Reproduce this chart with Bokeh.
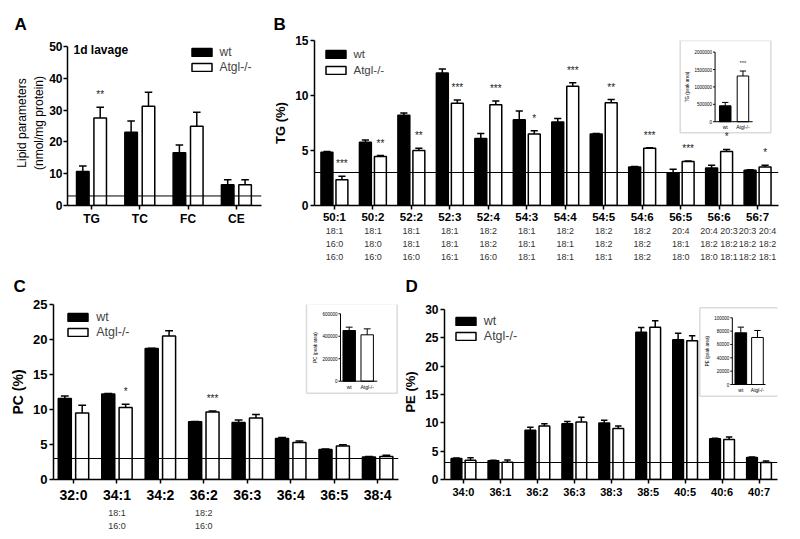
import math
from bokeh.plotting import figure
from bokeh.models import (Range1d, FixedTicker, LinearAxis, Span, Label, Legend,
                          LegendItem, BoxAnnotation)
from bokeh.core.properties import value
from bokeh.layouts import column, row
from bokeh.embed import file_html
from bokeh.resources import INLINE

FONT = "Liberation Sans"

# ------------------------------------------------------------------ data
A_cats = ["TG", "TC", "FC", "CE"]
A_wt = [10.7, 23.0, 16.6, 6.5]
A_wt_err = [1.75, 3.6, 2.4, 1.6]
A_ko = [27.5, 31.2, 24.9, 6.5]
A_ko_err = [3.4, 4.4, 4.4, 1.6]
A_sig = ["**", "", "", ""]

B_cats = ["50:1", "50:2", "52:2", "52:3", "52:4", "54:3", "54:4", "54:5",
          "54:6", "56:5", "56:6", "56:7"]
B_sub = [["18:1", "16:0", "16:0"], ["18:1", "18:0", "16:0"], ["18:1", "18:1", "16:0"],
         ["18:1", "18:1", "16:1"], ["18:2", "18:2", "16:0"], ["18:1", "18:1", "18:1"],
         ["18:2", "18:1", "18:1"], ["18:2", "18:2", "18:1"], ["18:2", "18:2", "18:2"],
         ["20:4", "18:1", "18:0"], ["20:4 20:3", "18:2 18:2", "18:0 18:1"],
         ["20:3 20:4", "18:2 18:2", "18:2 18:1"]]
B_wt = [4.85, 5.75, 8.2, 12.05, 6.1, 7.8, 7.6, 6.5, 3.5, 2.95, 3.4, 3.2]
B_wt_err = [0.05, 0.2, 0.2, 0.35, 0.45, 0.8, 0.3, 0.05, 0.05, 0.35, 0.25, 0.05]
B_ko = [2.35, 4.45, 5.0, 9.3, 9.15, 6.5, 10.85, 9.33, 5.2, 4.0, 4.9, 3.5]
B_ko_err = [0.3, 0.1, 0.2, 0.3, 0.35, 0.3, 0.3, 0.3, 0.05, 0.05, 0.2, 0.15]
B_sig = ["***", "**", "**", "***", "***", "*", "***", "**", "***", "***", "*", "*"]

C_cats = ["32:0", "34:1", "34:2", "36:2", "36:3", "36:4", "36:5", "38:4"]
C_sub = [[], ["18:1", "16:0"], [], ["18:2", "16:0"], [], [], [], []]
C_wt = [11.57, 12.2, 18.7, 8.25, 8.15, 5.85, 4.3, 3.2]
C_wt_err = [0.35, 0.1, 0.05, 0.05, 0.35, 0.15, 0.05, 0.08]
C_ko = [9.5, 10.3, 20.5, 9.65, 8.8, 5.3, 4.8, 3.3]
C_ko_err = [1.1, 0.45, 0.75, 0.15, 0.5, 0.2, 0.15, 0.15]
C_sig = ["", "*", "", "***", "", "", "", ""]

D_cats = ["34:0", "36:1", "36:2", "36:3", "38:3", "38:5", "40:5", "40:6", "40:7"]
D_wt = [3.7, 3.3, 8.7, 9.85, 9.97, 26.0, 24.65, 7.2, 3.87]
D_wt_err = [0.1, 0.1, 0.5, 0.4, 0.5, 0.8, 1.15, 0.1, 0.1]
D_ko = [3.4, 3.05, 9.45, 10.15, 9.0, 26.87, 24.5, 7.05, 3.0]
D_ko_err = [0.45, 0.4, 0.4, 0.85, 0.45, 1.15, 0.85, 0.45, 0.25]
D_sig = [""] * 9

groups = ["wt", "Atgl-/-"]
TG_inset = [457000, 1314000]
TG_inset_err = [97000, 143000]
TG_inset_sig = ["", "***"]
PC_inset = [451000, 413000]
PC_inset_err = [30000, 53000]
PE_inset = [77500, 70500]
PE_inset_err = [8500, 10500]

threshold = 3


# ------------------------------------------------------------------ helpers
def make_panel(letter, letter_off, letter_standoff, w, h, mbl, mbr, mbt, mbb, xr,
               ytop, ymax, yticks, cats, xfont, yfont, ylabel, ylabel_size, ylabel_style):
    p = figure(width=w, height=h, x_range=Range1d(*xr), y_range=Range1d(0, ytop),
               output_backend="svg", toolbar_location=None, title=letter,
               title_location="above",
               min_border_left=mbl, min_border_right=mbr, min_border_top=mbt,
               min_border_bottom=mbb, background_fill_color="white",
               border_fill_color="white")
    p.title.text_font = FONT
    p.title.text_font_size = "17px"
    p.title.text_font_style = "bold"
    p.title.text_color = "black"
    p.title.align = "left"
    p.title.offset = letter_off
    p.title.standoff = letter_standoff
    p.xgrid.visible = False
    p.ygrid.visible = False
    p.outline_line_color = None
    for ax in (p.xaxis[0], p.yaxis[0]):
        ax.axis_line_color = "black"
        ax.axis_line_width = 1.5
        ax.major_tick_line_color = "black"
        ax.major_tick_line_width = 1.5
        ax.major_tick_out = 4
        ax.major_tick_in = 0
        ax.minor_tick_line_color = None
        ax.major_label_text_font = FONT
        ax.major_label_text_font_style = "bold"
        ax.major_label_text_color = "black"
        ax.major_label_standoff = 2
    idx = list(range(len(cats)))
    p.xaxis.ticker = FixedTicker(ticks=idx)
    p.xaxis.major_label_overrides = {i: c for i, c in zip(idx, cats)}
    p.xaxis.major_label_text_font_size = xfont
    p.yaxis.ticker = FixedTicker(ticks=yticks)
    p.yaxis.bounds = (0, ymax)
    p.yaxis.major_label_text_font_size = yfont
    p.yaxis.axis_label = ylabel
    p.yaxis.axis_label_text_font = FONT
    p.yaxis.axis_label_text_font_size = ylabel_size
    p.yaxis.axis_label_text_font_style = ylabel_style
    p.yaxis.axis_label_text_color = "black"
    p.yaxis.axis_label_standoff = 4
    return p


def add_bars(p, wt, wte, ko, koe, off, bw, sig, star_pad, star_size):
    n = len(wt)
    xw = [i - off for i in range(n)]
    xk = [i + off for i in range(n)]
    rw = p.vbar(x=xw, top=wt, width=bw, fill_color="black", line_color="black", line_width=1.5)
    rk = p.vbar(x=xk, top=ko, width=bw, fill_color="white", line_color="black", line_width=1.5)
    xs = xw + xk
    tops = list(wt) + list(ko)
    errs = list(wte) + list(koe)
    ends = [t + e for t, e in zip(tops, errs)]
    cap = bw * 0.6
    p.segment(x0=xs, y0=tops, x1=xs, y1=ends, line_color="black", line_width=1.5)
    p.segment(x0=[x - cap / 2 for x in xs], y0=ends, x1=[x + cap / 2 for x in xs], y1=ends,
              line_color="black", line_width=1.5)
    sx, sy, st = [], [], []
    for i in range(n):
        if sig[i]:
            sx.append(xk[i])
            sy.append(ko[i] + koe[i] + star_pad)
            st.append(sig[i])
    if st:
        p.text(x=sx, y=sy, text=st, text_align="center", text_baseline="middle",
               text_font=value(FONT), text_font_size=star_size, text_color="#222222")
    p.add_layout(Span(location=threshold, dimension="width", line_color="black", line_width=1))
    return rw, rk


def add_legend(p, rw, rk, x, y, fsize, spacing):
    leg = Legend(items=[LegendItem(label=groups[0], renderers=[rw]),
                        LegendItem(label=groups[1], renderers=[rk])],
                 location=(x, y), glyph_width=25, glyph_height=10, label_standoff=6,
                 label_height=15, label_width=10, spacing=spacing, padding=0, margin=0,
                 border_line_color=None, background_fill_alpha=0,
                 label_text_font=FONT, label_text_font_size=fsize)
    p.add_layout(leg)


def add_sub_axis(p, subs, standoff, fsize, lh):
    idx = list(range(len(subs)))
    sub = LinearAxis(ticker=FixedTicker(ticks=idx),
                     major_label_overrides={i: "\n".join(s) for i, s in zip(idx, subs)},
                     axis_line_color=None, major_tick_line_color=None,
                     minor_tick_line_color=None, major_tick_out=0, major_tick_in=0,
                     major_label_standoff=standoff, major_label_text_font=FONT,
                     major_label_text_font_size=fsize, major_label_text_color="#333333",
                     major_label_text_line_height=lh)
    p.add_layout(sub, "below")


def add_label(p, text, x, y, size, style="bold", align="center"):
    p.add_layout(Label(x=x, y=y, x_units="screen", y_units="screen", text=text,
                       text_font=FONT, text_font_size=size, text_font_style=style,
                       text_align=align, text_baseline="middle", text_color="black"))


def add_inset(p, frame, axis_x, c0, c1, zero_y, top_y, top_val, ticks, vals, errs,
              sig, ylabel, ylabel_x, box, bw, xend_x):
    L, R, T, B = frame
    unit = c1 - c0
    per = top_val / (zero_y - top_y)
    p.extra_x_ranges = {"ix": Range1d((L - c0) / unit, (R - c0) / unit)}
    p.extra_y_ranges = {"iy": Range1d((zero_y - B) * per, (zero_y - T) * per)}
    kw = dict(x_range_name="ix", y_range_name="iy")
    p.add_layout(BoxAnnotation(left=box[0] - L, right=box[1] - L, bottom=B - box[3],
                               top=B - box[2], left_units="screen", right_units="screen",
                               top_units="screen", bottom_units="screen",
                               fill_color=None, fill_alpha=0, line_color="#888888",
                               line_width=1.5))
    p.vbar(x=[0, 1], top=vals, width=bw, fill_color=["black", "white"],
           line_color="black", line_width=1, **kw)
    ends = [v + e for v, e in zip(vals, errs)]
    cap = bw * 0.55
    p.segment(x0=[0, 1], y0=vals, x1=[0, 1], y1=ends, line_color="black", line_width=1, **kw)
    p.segment(x0=[-cap / 2, 1 - cap / 2], y0=ends, x1=[cap / 2, 1 + cap / 2], y1=ends,
              line_color="black", line_width=1, **kw)
    ax = (axis_x - c0) / unit
    xe = (xend_x - c0) / unit
    p.segment(x0=[ax, ax], y0=[0, 0], x1=[ax, xe], y1=[ticks[-1], 0],
              line_color="black", line_width=1, **kw)
    tl = 2.0 / unit
    p.segment(x0=[ax - tl] * len(ticks), y0=ticks, x1=[ax] * len(ticks), y1=ticks,
              line_color="black", line_width=1, **kw)
    p.text(x=[ax - 3.0 / unit] * len(ticks), y=ticks, text=[str(int(t)) for t in ticks],
           text_align="right", text_baseline="middle", text_font=value(FONT),
           text_font_size="4.5px", text_color="black", **kw)
    p.text(x=[0, 1], y=[-2.5 * per] * 2, text=groups, text_align="center",
           text_baseline="top", text_font=value(FONT), text_font_size="5px",
           text_color="black", **kw)
    p.text(x=[(ylabel_x - c0) / unit], y=[ticks[-1] / 2], text=[ylabel], angle=math.pi / 2,
           text_align="center", text_baseline="middle", text_font=value(FONT),
           text_font_size="4.5px", text_color="black", **kw)
    sx = [i for i in range(2) if sig[i]]
    if sx:
        p.text(x=sx, y=[ends[i] + 8 * per for i in sx], text=[sig[i] for i in sx],
               text_align="center", text_baseline="middle", text_font=value(FONT),
               text_font_size="6px", text_color="#333333", **kw)


# ------------------------------------------------------------------ row 1 (frames 40..206)
pA = make_panel("A", -53, 13, 270, 264, 67, 9, 40, 58, (-0.497, 3.52), 51.875, 50,
                [0, 10, 20, 30, 40, 50], A_cats, "12px", "12px",
                "Lipid parameters\n(nmol/mg protein)", "12px", "normal")
pA.yaxis.axis_label_text_line_height = 1.25
pA.yaxis.axis_label_standoff = 0
pA.yaxis.major_label_standoff = 1
rw, rk = add_bars(pA, A_wt, A_wt_err, A_ko, A_ko_err, 0.18, 0.26, A_sig, 4.0, "10px")
add_legend(pA, rw, rk, 121.5, 130.3, "12px", 0)
add_label(pA, "1d lavage", 6, 156, "12px", align="left")

pB = make_panel("B", -41, 13, 528, 264, 42, 20, 40, 58, (-0.518, 11.544), 15, 15,
                [0, 5, 10, 15], B_cats, "11.5px", "12px", "TG (%)", "13px", "bold")
pB.xaxis.major_label_standoff = 1
rw, rk = add_bars(pB, B_wt, B_wt_err, B_ko, B_ko_err, 0.195, 0.31, B_sig, 1.13, "10px")
add_sub_axis(pB, B_sub, 0, "9px", 1.3)
add_legend(pB, rw, rk, 8.5, 127.7, "11.5px", 1)
add_inset(pB, (312, 778, 40, 206), 714.3, 724.5, 742.3, 121.7, 51.7, 2000000,
          [0, 500000, 1000000, 1500000, 2000000], TG_inset, TG_inset_err, TG_inset_sig,
          "TG (peak area)", 686.7, (677.7, 768.3, 41, 133.3), 0.65, 752)

# ------------------------------------------------------------------ row 2 (frames 304..479)
pC = make_panel("C", -40, 17, 400, 271, 53, 2, 40, 56, (-0.46, 7.48), 25, 25,
                [0, 5, 10, 15, 20, 25], C_cats, "14px", "13px", "PC (%)", "14px", "bold")
pC.xaxis.major_label_standoff = 3
rw, rk = add_bars(pC, C_wt, C_wt_err, C_ko, C_ko_err, 0.2, 0.3, C_sig, 1.8, "10px")
add_sub_axis(pC, C_sub, 2, "9px", 1.3)
add_legend(pC, rw, rk, 12.2, 140, "12.5px", 0)
add_inset(pC, (53, 398, 304, 479), 340, 348.7, 366.7, 380.7, 313.3, 600000,
          [0, 200000, 400000, 600000], PC_inset, PC_inset_err, ["", ""],
          "PC (peak area)", 315, (306, 396.7, 303.3, 392.7), 0.69, 376.7)

pD = make_panel("D", -39, 18, 398, 271, 43, 21, 40, 56, (-0.514, 8.50), 30.88, 30,
                [0, 5, 10, 15, 20, 25, 30], D_cats, "11px", "12px", "PE (%)", "13px", "bold")
rw, rk = add_bars(pD, D_wt, D_wt_err, D_ko, D_ko_err, 0.19, 0.29, D_sig, 2.2, "10px")
add_legend(pD, rw, rk, 8.8, 135.7, "12.5px", 0)
add_inset(pD, (443, 777, 304, 479), 731.7, 740.2, 756.9, 384, 317.3, 100000,
          [0, 20000, 40000, 60000, 80000, 100000], PE_inset, PE_inset_err, ["", ""],
          "PE (peak area)", 706.7, (698.3, 782.7, 307.3, 395.7), 0.7, 765)

layout = column(row(pA, pB), row(pC, pD))
open("out.html", "w").write(file_html(layout, INLINE))
